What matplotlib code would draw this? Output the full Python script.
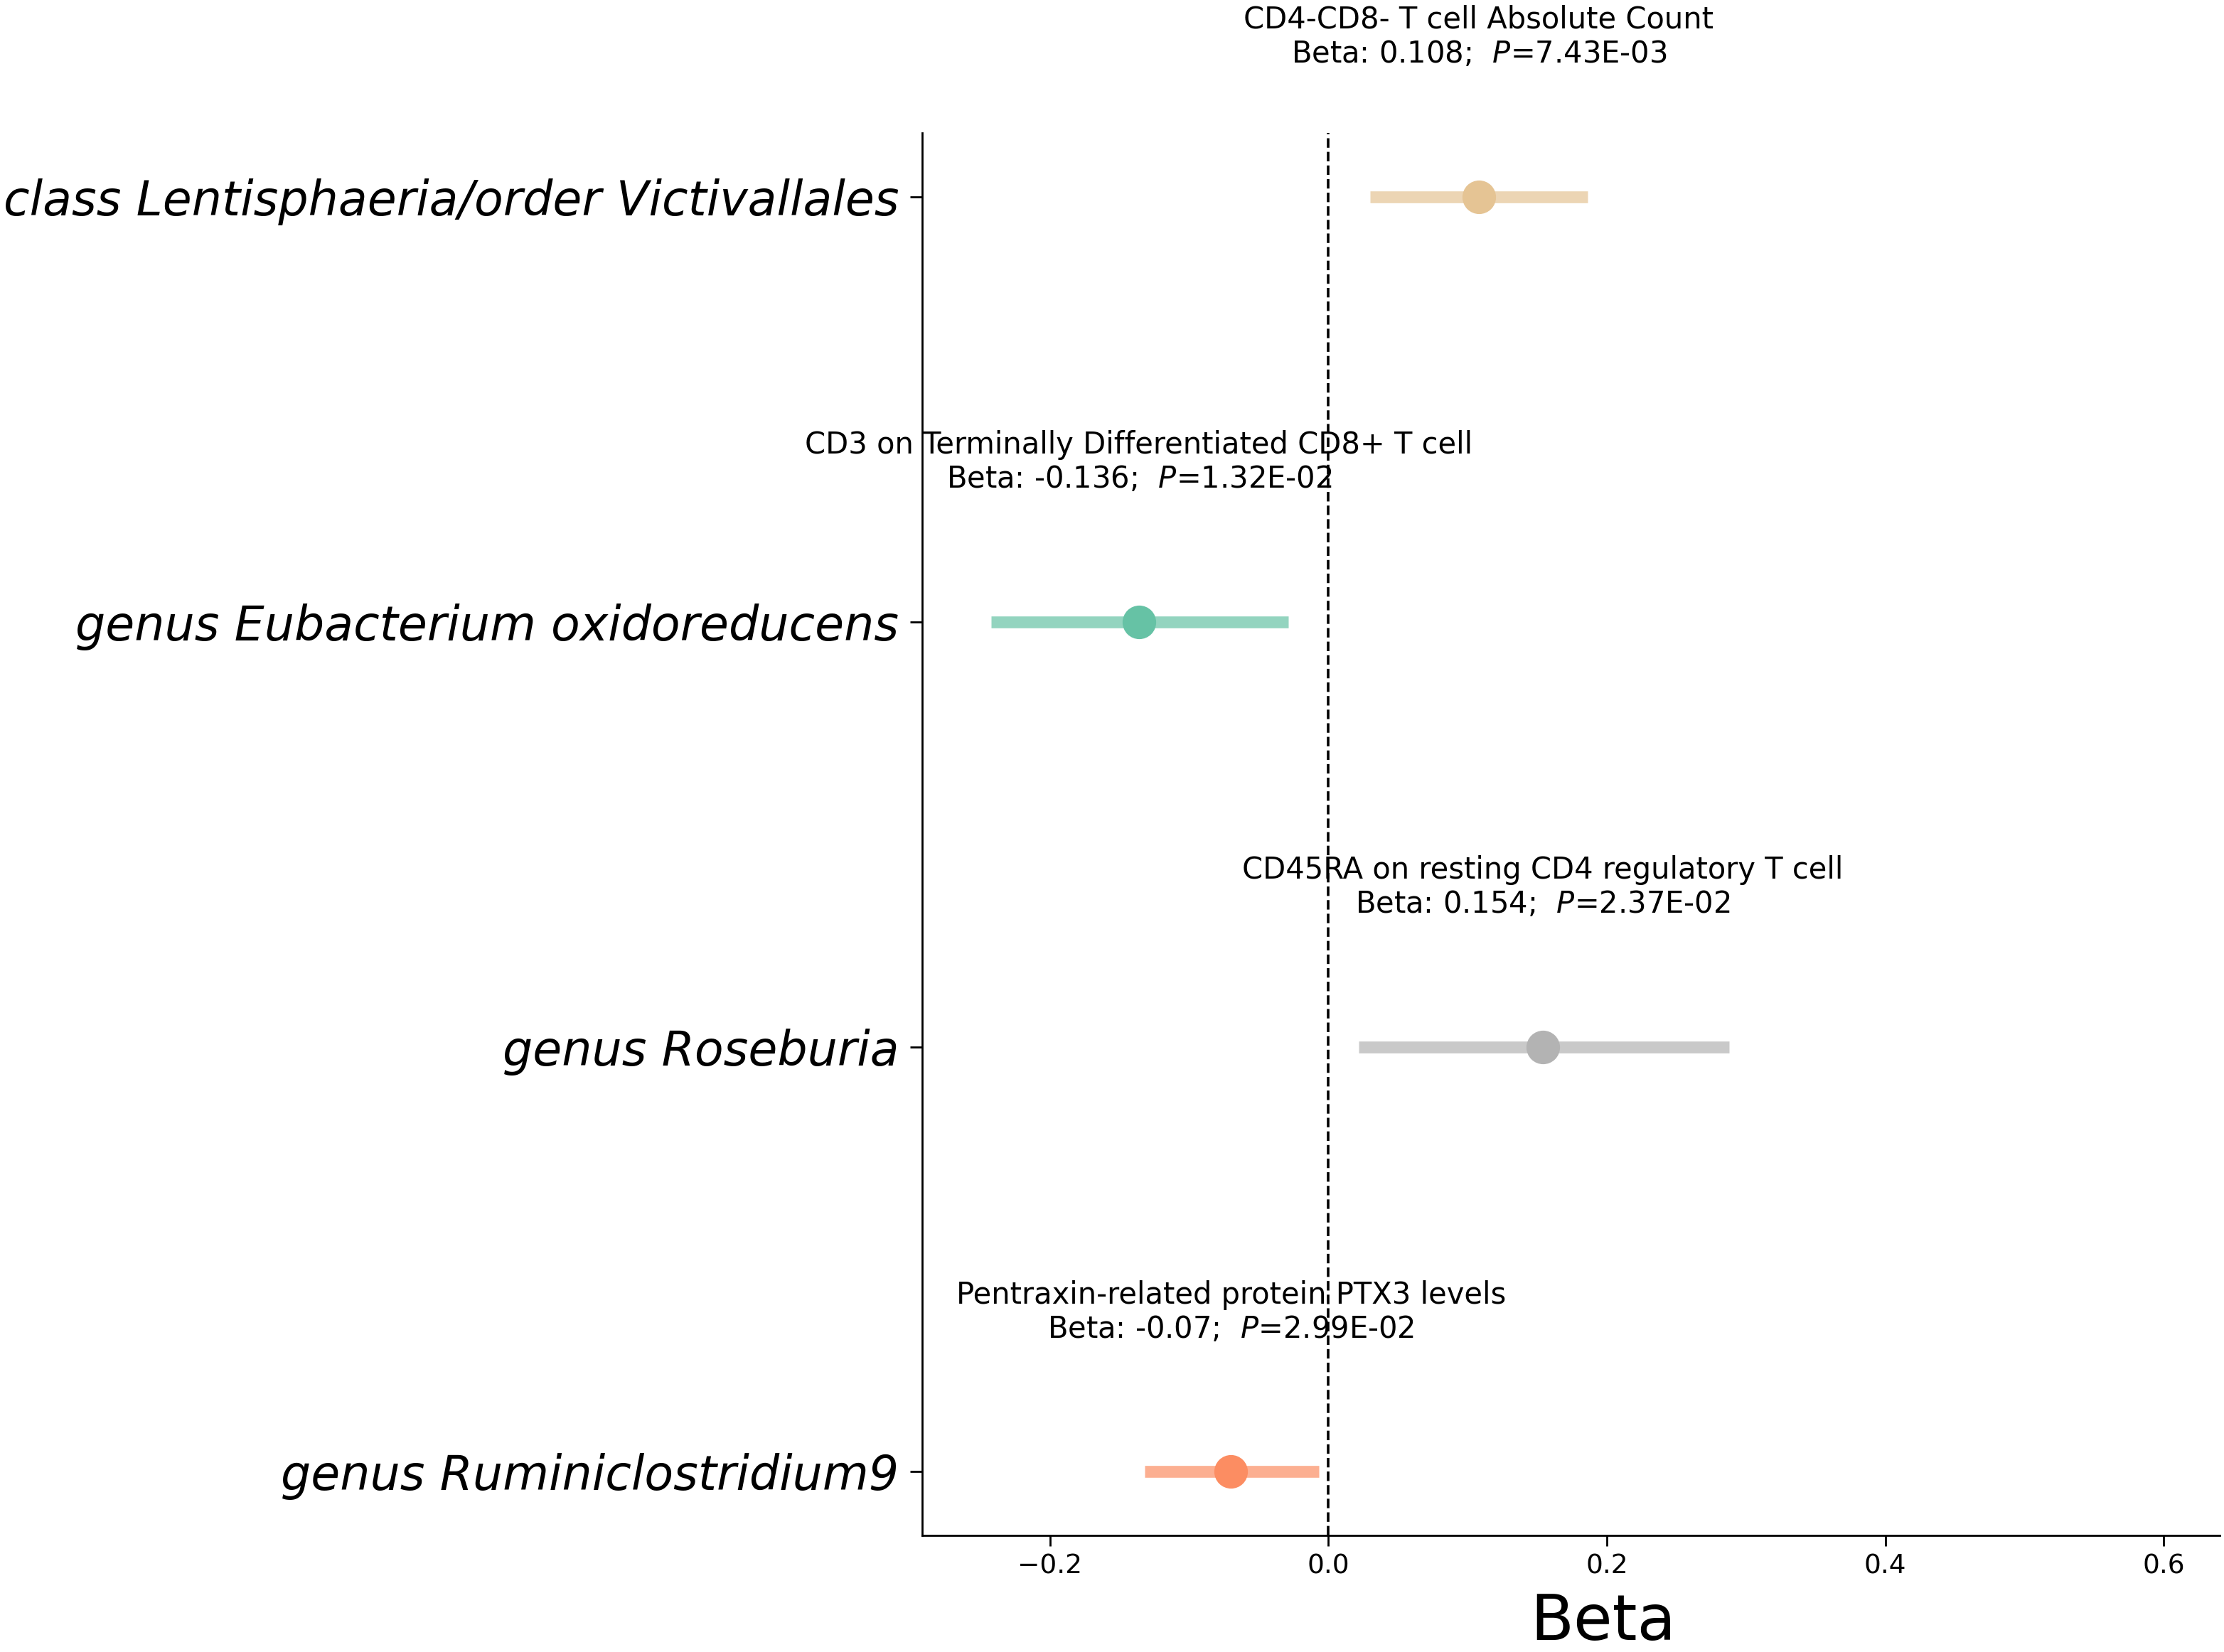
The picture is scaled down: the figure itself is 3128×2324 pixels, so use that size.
import matplotlib.pyplot as plt

exposures = [
    "class Lentisphaeria/order Victivallales",
    "genus Eubacterium oxidoreducens",
    "genus Roseburia",
    "genus Ruminiclostridium9",
]
outcomes = [
    "CD4-CD8- T cell Absolute Count",
    "CD3 on Terminally Differentiated CD8+ T cell",
    "CD45RA on resting CD4 regulatory T cell",
    "Pentraxin-related protein PTX3 levels",
]
beta = [0.108, -0.136, 0.154, -0.07]
ci_low = [0.030, -0.242, 0.022, -0.132]
ci_high = [0.186, -0.029, 0.288, -0.007]
pvals = ["7.43E-03", "1.32E-02", "2.37E-02", "2.99E-02"]
colors = ["#e5c494", "#66c2a5", "#b3b3b3", "#fc8d62"]

fig = plt.figure(figsize=(15.64, 11.62), dpi=200)
ax = fig.add_axes([0.4145, 0.0705, 0.5835, 0.849])

for i in range(len(beta)):
    ax.plot([ci_low[i], ci_high[i]], [i, i], color=colors[i], lw=6, alpha=0.7,
            solid_capstyle='butt', zorder=2)
    ax.plot(beta[i], i, 'o', color=colors[i], markersize=16, zorder=3)
    ax.text(beta[i], i - 0.3,
            outcomes[i] + "\nBeta: " + str(beta[i]) + ";  $\\it{P}$=" + pvals[i],
            ha='center', va='bottom', fontsize=15)

ax.axvline(0, color='black', ls='--', lw=1.3, zorder=1)
ax.set_yticks(range(len(exposures)))
ax.set_yticklabels(exposures, fontsize=24, style='italic')
ax.set_ylim(3.15, -0.15)
ax.set_xlim(-0.292, 0.64)
ax.set_xticks([-0.2, 0.0, 0.2, 0.4, 0.6])
ax.tick_params(axis='x', labelsize=13.5, length=5.5, width=1.0)
ax.tick_params(axis='y', length=6, width=1.0, pad=5.5)
ax.set_xlabel("Beta", fontsize=32)
ax.xaxis.set_label_coords(0.525, -0.04)
for s in ['left', 'bottom']:
    ax.spines[s].set_linewidth(1.0)
ax.spines['top'].set_visible(False)
ax.spines['right'].set_visible(False)

fig.savefig("out.png", dpi=200)
